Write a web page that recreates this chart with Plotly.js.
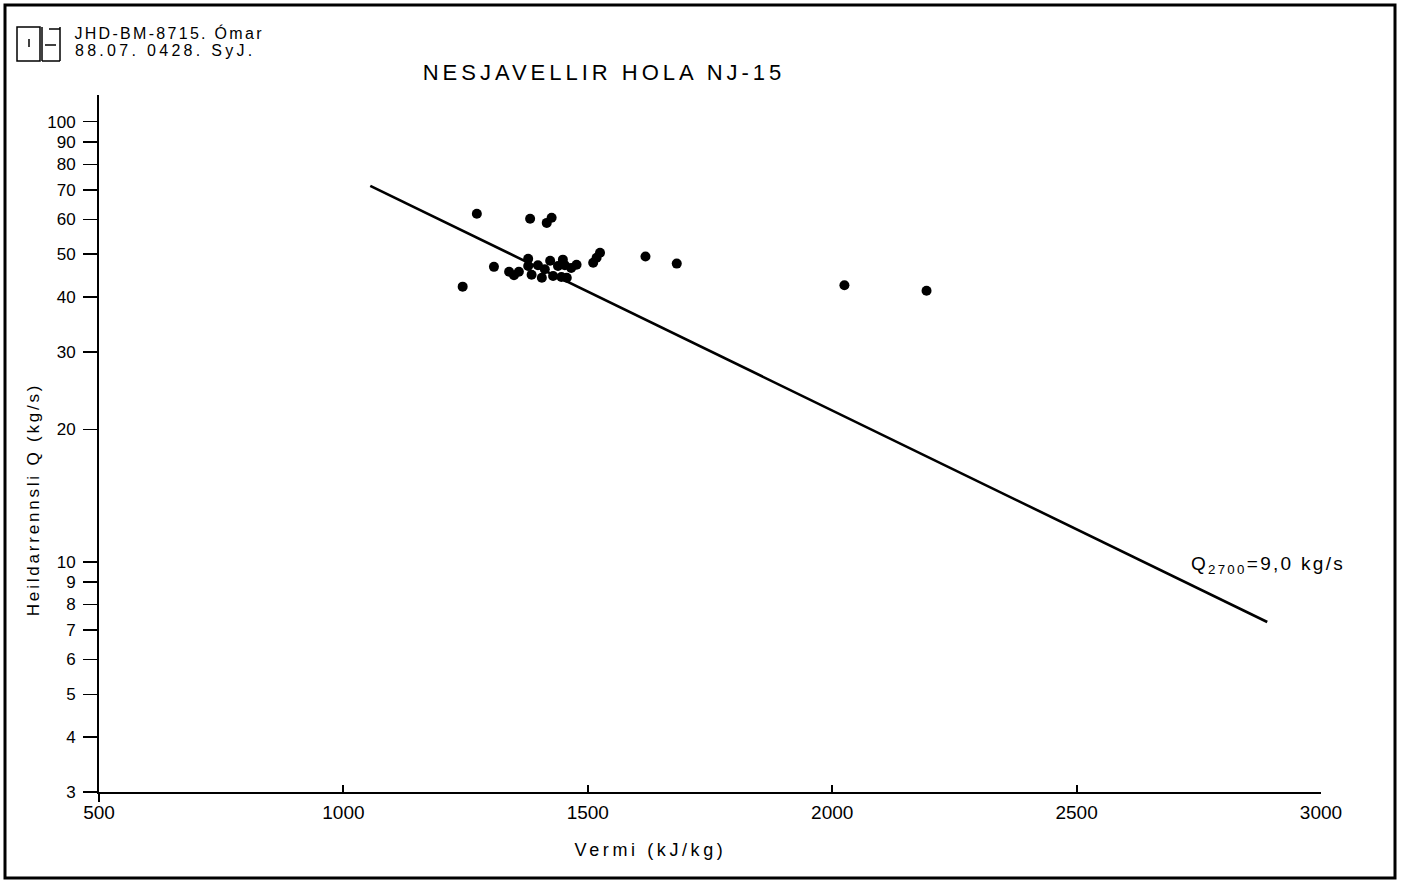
<!DOCTYPE html>
<html>
<head>
<meta charset="utf-8">
<script src="https://cdn.plot.ly/plotly-3.0.1.min.js"></script>
<style>
html,body{margin:0;padding:0;background:#fff;}
#chart{width:1403px;height:882px;}
.gtitle{letter-spacing:4px;}
.annotation[data-index="0"] text{letter-spacing:2.3px;}
.annotation[data-index="1"] text{letter-spacing:3.3px;}
.annotation[data-index="2"] text{letter-spacing:2.3px;}
.annotation[data-index="3"] text{letter-spacing:3.6px;}
.annotation[data-index="4"] text{letter-spacing:2.8px;}
</style>
</head>
<body>
<div id="chart"></div>
<script>
// Measured points: enthalpy (kJ/kg) vs total flow Q (kg/s)
const enthalpy = [1244,1273,1308,1339,1349,1359,1378,1378,1385,1382,1398,1406,1412,1416,1426,1423,1429,1439,1449,1446,1453,1457,1466,1477,1511,1518,1525,1618,1682,2025,2193];
const flow     = [42.2,61.8,46.8,45.6,44.8,45.6,48.8,47.0,44.9,60.2,47.2,44.2,46.2,58.9,60.5,48.3,44.6,47.0,48.6,44.4,47.2,44.2,46.5,47.3,47.8,49.1,50.4,49.4,47.6,42.5,41.3];
// Fitted line endpoints
const lineX = [1055, 2890];
const lineY = [71.5, 7.3];
// Axis ticks
const xTicks = [500,1000,1500,2000,2500,3000];
const yTicks = [3,4,5,6,7,8,9,10,20,30,40,50,60,70,80,90,100];
const yTickText = yTicks.map(String);
const titleText = "NESJAVELLIR HOLA NJ-15";
const headerLine1 = "JHD-BM-8715. Ómar";
const headerLine2 = "88.07. 0428. SyJ.";
const xTitle = "Vermi (kJ/kg)";
const yTitle = "Heildarrennsli Q (kg/s)";
const fitLabel = "Q<sub>2700</sub>=9,0 kg/s";
const fitLabelX = 2892, fitLabelY = 9.85;

// pixel -> paper helpers (plot area: x 99..1321, y 95..792)
const L=99, R=1321, T=95, B=792;
const px = v => (v-L)/(R-L);
const py = v => (B-v)/(B-T);

const fontFam = "Liberation Sans, Arial, sans-serif";

const traces = [
  {x: lineX, y: lineY, mode:'lines', line:{color:'#000', width:2.6}, hoverinfo:'skip', showlegend:false},
  {x: enthalpy, y: flow, mode:'markers', marker:{color:'#000', size:10}, showlegend:false}
];

const shapes = [
  // outer frame
  {type:'rect', xref:'paper', yref:'paper', x0:px(5), x1:px(1395), y0:py(5), y1:py(878), line:{color:'#000', width:3}},
  // axis extensions (crossing at origin)
  {type:'line', xref:'paper', yref:'paper', x0:px(90), x1:px(99), y0:0, y1:0, line:{color:'#000', width:2}},
  {type:'line', xref:'paper', yref:'paper', x0:0, x1:0, y0:py(792), y1:py(802), line:{color:'#000', width:2}},
  // logo
  {type:'rect', xref:'paper', yref:'paper', x0:px(17), x1:px(40), y0:py(27), y1:py(61), line:{color:'#000', width:1.5}},
  {type:'line', xref:'paper', yref:'paper', x0:px(29), x1:px(29), y0:py(39), y1:py(47), line:{color:'#000', width:1.5}},
  {type:'line', xref:'paper', yref:'paper', x0:px(42), x1:px(42), y0:py(27), y1:py(61), line:{color:'#000', width:1.5}},
  {type:'line', xref:'paper', yref:'paper', x0:px(49), x1:px(60), y0:py(29), y1:py(29), line:{color:'#000', width:1.5}},
  {type:'line', xref:'paper', yref:'paper', x0:px(60), x1:px(60), y0:py(27), y1:py(61), line:{color:'#000', width:1.5}},
  {type:'line', xref:'paper', yref:'paper', x0:px(45), x1:px(56), y0:py(45), y1:py(45), line:{color:'#000', width:1.5}},
  {type:'line', xref:'paper', yref:'paper', x0:px(42), x1:px(60), y0:py(61), y1:py(61), line:{color:'#000', width:1.5}}
];

const annotations = [
  {xref:'paper', yref:'paper', x:px(169), y:py(33), xanchor:'center', yanchor:'middle', text:headerLine1, showarrow:false, font:{family:fontFam, size:16, color:'#000'}},
  {xref:'paper', yref:'paper', x:px(165), y:py(50), xanchor:'center', yanchor:'middle', text:headerLine2, showarrow:false, font:{family:fontFam, size:16, color:'#000'}},
  {xref:'x', yref:'y', x:fitLabelX, y:Math.log10(fitLabelY), xanchor:'center', yanchor:'middle', text:fitLabel, showarrow:false, font:{family:fontFam, size:19, color:'#000'}},
  {xref:'paper', yref:'paper', x:px(650), y:py(850), xanchor:'center', yanchor:'middle', text:xTitle, showarrow:false, font:{family:fontFam, size:18, color:'#000'}},
  {xref:'paper', yref:'paper', x:px(33), y:py(500), xanchor:'center', yanchor:'middle', textangle:-90, text:yTitle, showarrow:false, font:{family:fontFam, size:17, color:'#000'}}
];

const layout = {
  width:1403, height:882,
  margin:{l:L, r:1403-R, t:T, b:882-B, pad:0},
  paper_bgcolor:'#fff', plot_bgcolor:'#fff',
  showlegend:false,
  title:{text:titleText, x:px(604), xref:'paper', xanchor:'center', y:1-72/882, yanchor:'middle', font:{family:fontFam, size:22, color:'#000'}},
  xaxis:{
    type:'linear', range:[500,3000], tickvals:xTicks, ticktext:xTicks.map(String),
    showgrid:false, zeroline:false, showline:true, linecolor:'#000', linewidth:2,
    ticks:'inside', ticklen:7, tickwidth:2, tickcolor:'#000',
    ticklabelstandoff:2,
    tickfont:{family:fontFam, size:19, color:'#000'}
  },
  yaxis:{
    type:'log', range:[Math.log10(3), Math.log10(115)], tickvals:yTicks, ticktext:yTickText,
    showgrid:false, zeroline:false, showline:true, linecolor:'#000', linewidth:2,
    ticks:'outside', ticklen:14, tickwidth:1.5, tickcolor:'#000',
    ticklabelstandoff:4,
    tickfont:{family:fontFam, size:17, color:'#000'}
  },
  shapes: shapes,
  annotations: annotations
};

Plotly.newPlot('chart', traces, layout, {staticPlot:true, displayModeBar:false});
</script>
</body>
</html>
